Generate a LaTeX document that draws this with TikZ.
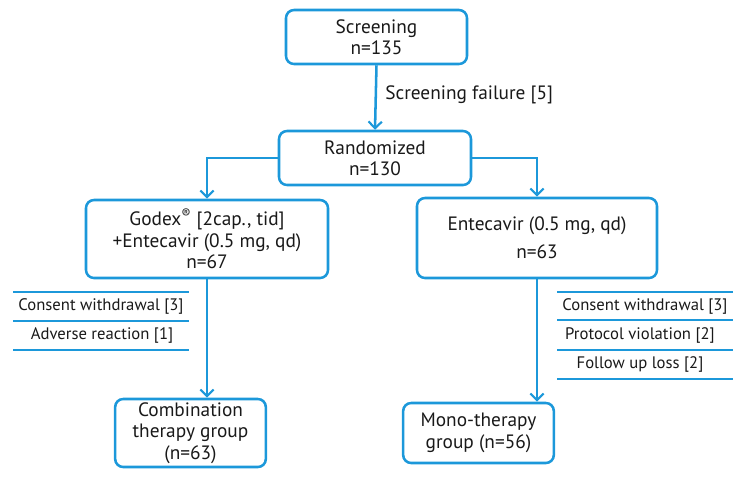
\documentclass[tikz,border=0pt]{standalone}
\usepackage{fontspec}
\setmainfont{PT Sans}
\usetikzlibrary{arrows.meta}
\definecolor{fblue}{RGB}{28,152,218}
\begin{document}
\begin{tikzpicture}[x=0.75pt,y=-0.75pt,
  box/.style={draw=fblue,line width=1.9pt,rounded corners=6pt,align=center,
    inner sep=0pt,font=\fontsize{14.5}{16}\selectfont,text=black!90},
  arr/.style={draw=fblue,line width=1.9pt,-{Straight Barb[length=5pt,width=10pt,line width=1.6pt]}},
  sep/.style={draw=fblue,line width=1.9pt},
  lbl/.style={font=\fontsize{12.5}{14}\selectfont,text=black!90,inner sep=0pt}]
\useasboundingbox (0,0) rectangle (743,480);
\node[box,minimum width=135.75pt,minimum height=40.5pt] (scr) at (376.5,37) {Screening\\n=135};
\node[box,minimum width=144pt,minimum height=40.5pt] (rand) at (375,158) {Randomized\\n=130};
\node[box,minimum width=181.5pt,minimum height=58.5pt] (god) at (207,239) {Godex\textsuperscript{®} [2cap., tid]\\+Entecavir (0.5 mg, qd)\\n=67};
\node[box,minimum width=180pt,minimum height=60pt,font=\fontsize{14.5}{21}\selectfont] (ent) at (537,238) {Entecavir (0.5 mg, qd)\\n=63};
\node[box,minimum width=113pt,minimum height=51pt] (comb) at (190.5,433) {Combination\\therapy group\\(n=63)};
\node[box,minimum width=113pt,minimum height=45pt] (mono) at (478.5,433) {Mono-therapy\\group (n=56)};
\draw[arr] (scr.south) -- (rand.north);
\node[anchor=west,font=\fontsize{14.5}{16}\selectfont,text=black!90,inner sep=0pt] (fail) at (385,95) {Screening failure [5]};
\draw[arr] (rand.west) -| (god.north);
\draw[arr] (rand.east) -| (ent.north);
\draw[arr] (god.south) -- (god.south |- comb.north);
\draw[arr] (ent.south) -- (ent.south |- mono.north);
% left withdrawals
\draw[sep] (13,292) -- (189,292);
\draw[sep] (13,321) -- (189,321);
\draw[sep] (13,350) -- (189,350);
\node[lbl] (lw1) at (101,306.5) {Consent withdrawal [3]};
\node[lbl] (lw2) at (102,335.5) {Adverse reaction [1]};
% right withdrawals
\draw[sep] (557,292) -- (733,292);
\draw[sep] (557,320) -- (733,320);
\draw[sep] (557,350) -- (733,350);
\draw[sep] (557,379) -- (733,379);
\node[lbl] (rw1) at (645,306) {Consent withdrawal [3]};
\node[lbl] (rw2) at (640,335) {Protocol violation [2]};
\node[lbl] (rw3) at (640,364.5) {Follow up loss [2]};
\end{tikzpicture}
\end{document}
